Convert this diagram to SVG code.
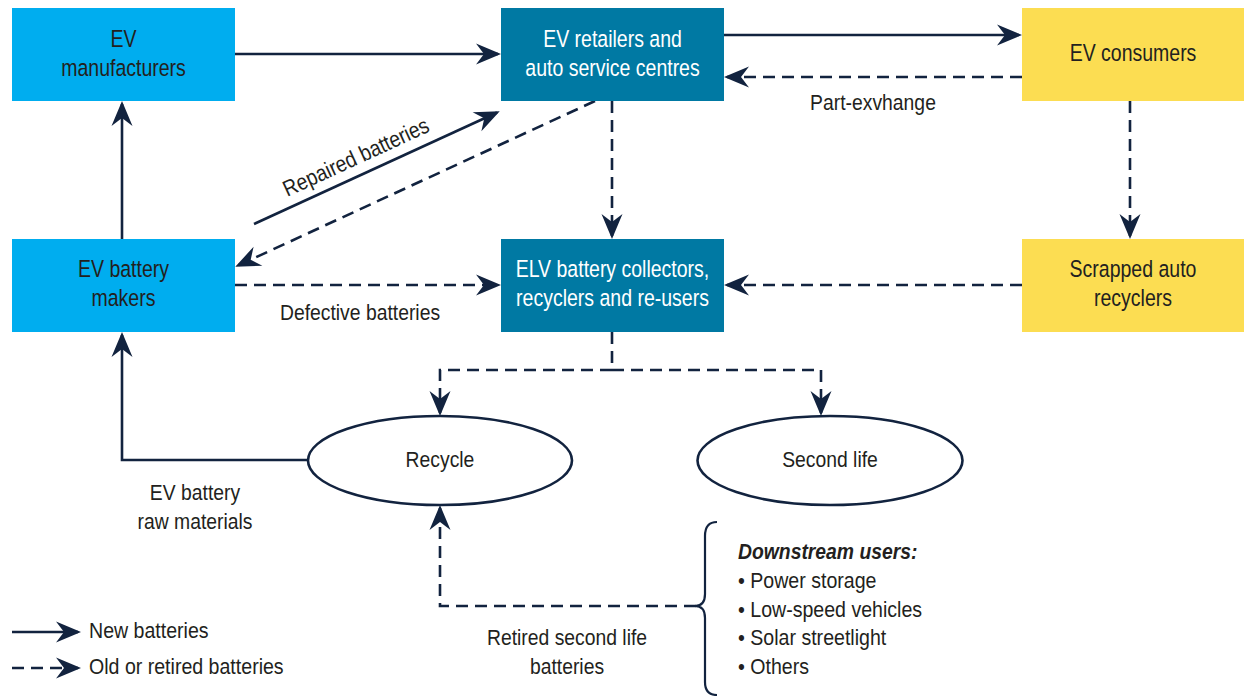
<svg xmlns="http://www.w3.org/2000/svg" width="1244" height="696" viewBox="0 0 1244 696">
<style>
.t{font-family:"Liberation Sans",Arial,sans-serif;font-size:23.5px;fill:#231f20;text-anchor:middle}
.w{fill:#ffffff}
.l{font-family:"Liberation Sans",Arial,sans-serif;font-size:22.5px;fill:#231f20;text-anchor:middle}
.s{text-anchor:start}
.c{fill:none;stroke:#12233f;stroke-width:2.6}
.d{stroke-dasharray:12 7}
.lb{fill:#00adef}
.db{fill:#0079a3}
.yb{fill:#fcdd52}
.el{fill:#ffffff;stroke:#12233f;stroke-width:2.6}
</style>
<defs>
<marker id="ah" viewBox="-24 -11 28 22" refX="0" refY="0" markerWidth="28" markerHeight="22" markerUnits="userSpaceOnUse" orient="auto">
<path d="M3,0 L-22,-10.5 L-14,0 L-22,10.5 Z" fill="#12233f"/>
</marker>
</defs>
<rect width="1244" height="696" fill="#ffffff"/>

<g id="connectors">
<line class="c" x1="235" y1="54" x2="498" y2="54" marker-end="url(#ah)"/>
<line class="c" x1="724" y1="35" x2="1019" y2="35" marker-end="url(#ah)"/>
<line class="c d" x1="1022" y1="77" x2="727" y2="77" marker-end="url(#ah)"/>
<line class="c d" x1="612" y1="101" x2="612" y2="236" marker-end="url(#ah)"/>
<line class="c d" x1="1130" y1="101" x2="1130" y2="236" marker-end="url(#ah)"/>
<line class="c d" x1="1022" y1="285" x2="727" y2="285" marker-end="url(#ah)"/>
<line class="c d" x1="235" y1="285" x2="498" y2="285" marker-end="url(#ah)"/>
<line class="c" x1="122" y1="239" x2="122" y2="104" marker-end="url(#ah)"/>
<line class="c" x1="254" y1="224" x2="497" y2="112.5" marker-end="url(#ah)"/>
<line class="c d" x1="595" y1="101" x2="238" y2="265.5" marker-end="url(#ah)"/>
<path class="c d" d="M612,332 V370 H440 V413" marker-end="url(#ah)"/>
<path class="c d" d="M612,370 H821 V413" marker-end="url(#ah)"/>
<path class="c" d="M308,460 H122 V335" marker-end="url(#ah)"/>
<path class="c d" d="M696,606 H440 V508" marker-end="url(#ah)"/>
<path d="M717,522 Q705,522 705,536 V594 Q705,606 695,606 Q705,606 705,618 V682 Q705,695 717,695" fill="none" stroke="#12233f" stroke-width="2.2"/>
<line class="c" x1="12" y1="632" x2="78" y2="632" marker-end="url(#ah)"/>
<line class="c d" x1="12" y1="668" x2="78" y2="668" marker-end="url(#ah)"/>
</g>

<g id="ev-manufacturers">
<rect class="lb" x="12" y="8" width="223" height="93"/>
<text class="t" transform="translate(123.5,47) scale(0.83,1)">EV</text>
<text class="t" transform="translate(123.5,76) scale(0.83,1)">manufacturers</text>
</g>
<g id="ev-retailers">
<rect class="db" x="501" y="8" width="223" height="93"/>
<text class="t w" transform="translate(612.5,47) scale(0.83,1)">EV retailers and</text>
<text class="t w" transform="translate(612.5,76) scale(0.83,1)">auto service centres</text>
</g>
<g id="ev-consumers">
<rect class="yb" x="1022" y="8" width="222" height="93"/>
<text class="t" transform="translate(1133,61) scale(0.83,1)">EV consumers</text>
</g>
<g id="ev-battery-makers">
<rect class="lb" x="12" y="239" width="223" height="93"/>
<text class="t" transform="translate(123.5,277) scale(0.83,1)">EV battery</text>
<text class="t" transform="translate(123.5,306) scale(0.83,1)">makers</text>
</g>
<g id="elv-collectors">
<rect class="db" x="501" y="239" width="223" height="93"/>
<text class="t w" transform="translate(612.5,277) scale(0.83,1)">ELV battery collectors,</text>
<text class="t w" transform="translate(612.5,306) scale(0.83,1)">recyclers and re-users</text>
</g>
<g id="scrapped-auto-recyclers">
<rect class="yb" x="1022" y="239" width="222" height="93"/>
<text class="t" transform="translate(1133,277) scale(0.83,1)">Scrapped auto</text>
<text class="t" transform="translate(1133,306) scale(0.83,1)">recyclers</text>
</g>
<g id="recycle">
<ellipse class="el" cx="440" cy="460.5" rx="132" ry="44.5"/>
<text class="l" transform="translate(440,467) scale(0.86,1)">Recycle</text>
</g>
<g id="second-life">
<ellipse class="el" cx="830" cy="460.5" rx="132.5" ry="44.5"/>
<text class="l" transform="translate(830,467) scale(0.86,1)">Second life</text>
</g>

<g id="labels">
<text class="l" transform="translate(873,110) scale(0.86,1)">Part-exvhange</text>
<text class="l" transform="translate(360,320) scale(0.86,1)">Defective batteries</text>
<text class="l" transform="translate(359,164) rotate(-24.7) scale(0.86,1)">Repaired batteries</text>
<text class="l" transform="translate(195,500) scale(0.86,1)">EV battery</text>
<text class="l" transform="translate(195,529) scale(0.86,1)">raw materials</text>
<text class="l" transform="translate(567,645) scale(0.86,1)">Retired second life</text>
<text class="l" transform="translate(567,674) scale(0.86,1)">batteries</text>
<text class="l s" transform="translate(89,638) scale(0.87,1)">New batteries</text>
<text class="l s" transform="translate(89,674) scale(0.87,1)">Old or retired batteries</text>
</g>
<g id="downstream-users">
<text class="l s" transform="translate(738,559) scale(0.86,1)" font-weight="bold" font-style="italic">Downstream users:</text>
<text class="l s" transform="translate(738,588) scale(0.87,1)">• Power storage</text>
<text class="l s" transform="translate(738,617) scale(0.87,1)">• Low-speed vehicles</text>
<text class="l s" transform="translate(738,645) scale(0.87,1)">• Solar streetlight</text>
<text class="l s" transform="translate(738,674) scale(0.87,1)">• Others</text>
</g>
</svg>
